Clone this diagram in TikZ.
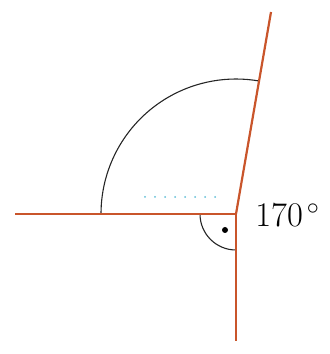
\documentclass[tikz,border=0pt]{standalone}
\usepackage{xcolor}
\usepackage{tikz}
\definecolor{rayorange}{HTML}{C9552B}
\definecolor{dotcyan}{HTML}{5FBDD6}

\begin{document}
\begin{tikzpicture}[x=0.5pt,y=0.5pt, ray/.style={draw=rayorange,line width=1.1pt}, arcline/.style={draw=black!85,line width=0.55pt}, dotline/.style={draw=dotcyan,line width=1pt,line cap=round,dash pattern=on 0pt off 5pt}]
\useasboundingbox (0,0) rectangle (329,354);
\coordinate (vertex) at (236,140); \coordinate (west) at (15,140); \coordinate (south) at (236,13); \coordinate (tip) at (271,342);
\coordinate (dotsL) at (145,157); \coordinate (dotsR) at (216,157);
\draw[arcline] (vertex) ++(180:135) arc[start angle=180,end angle=80.2,radius=135];
\draw[arcline] (vertex) ++(180:36) arc[start angle=180,end angle=270,radius=36];
\fill (225,124) circle[radius=3];
\draw[dotline] (dotsL) -- (dotsR);
\draw[ray] (west) -- (vertex) -- (south); \draw[ray] (vertex) -- (tip);
\node (angle) [anchor=base west,inner sep=0pt,font=\fontsize{17.5}{20}\selectfont] at (255,127) {$170^{\,\circ}$};
\end{tikzpicture}
\end{document}
